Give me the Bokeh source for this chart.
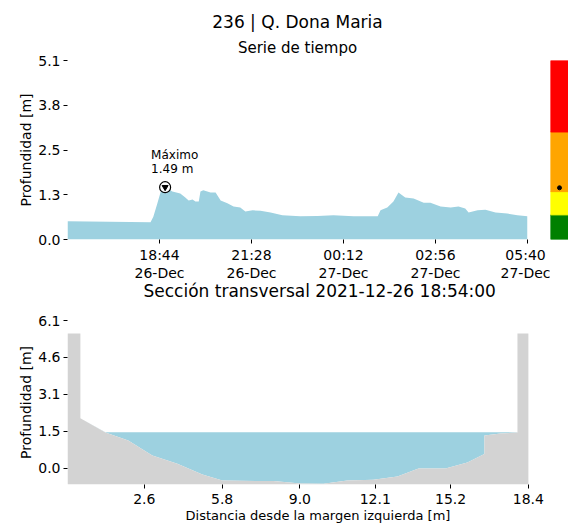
import numpy as np
import pandas as pd
from bokeh.plotting import figure
from bokeh.layouts import column, row
from bokeh.models import Range1d, FixedTicker, Title
from bokeh.core.properties import value
from bokeh.embed import file_html
from bokeh.resources import INLINE

FONT = "DejaVu Sans"

station_title = "236 | Q. Dona Maria"
series_title = "Serie de tiempo"
section_title = "Sección transversal 2021-12-26 18:54:00"
y_label = "Profundidad [m]"
x_label_section = "Distancia desde la margen izquierda [m]"

# ---- time series (depth, m) ----
times = [
    "2021-12-26 16:00", "2021-12-26 18:28", "2021-12-26 18:33", "2021-12-26 18:40",
    "2021-12-26 18:46", "2021-12-26 18:54", "2021-12-26 19:07", "2021-12-26 19:21",
    "2021-12-26 19:30", "2021-12-26 19:36", "2021-12-26 19:43", "2021-12-26 19:48",
    "2021-12-26 19:54", "2021-12-26 19:57", "2021-12-26 20:02", "2021-12-26 20:15",
    "2021-12-26 20:24", "2021-12-26 20:33", "2021-12-26 20:45", "2021-12-26 20:56",
    "2021-12-26 21:08", "2021-12-26 21:17", "2021-12-26 21:30", "2021-12-26 21:44",
    "2021-12-26 22:02", "2021-12-26 22:23", "2021-12-26 22:55", "2021-12-26 23:26",
    "2021-12-26 23:54", "2021-12-27 00:30", "2021-12-27 01:13", "2021-12-27 01:18",
    "2021-12-27 01:30", "2021-12-27 01:41", "2021-12-27 01:50", "2021-12-27 02:02",
    "2021-12-27 02:17", "2021-12-27 02:35", "2021-12-27 02:47", "2021-12-27 03:05",
    "2021-12-27 03:23", "2021-12-27 03:37", "2021-12-27 03:49", "2021-12-27 03:55",
    "2021-12-27 04:11", "2021-12-27 04:25", "2021-12-27 04:43", "2021-12-27 05:04",
    "2021-12-27 05:22", "2021-12-27 05:40",
]
depth = [
    0.52, 0.49, 0.65, 1.02,
    1.35, 1.49, 1.37, 1.31,
    1.20, 1.11, 1.14, 1.08,
    1.08, 1.37, 1.40, 1.34,
    1.34, 1.11, 1.03, 0.94,
    0.91, 0.80, 0.83, 0.82,
    0.77, 0.69, 0.66, 0.67,
    0.69, 0.66, 0.66, 0.83,
    0.91, 1.08, 1.34, 1.20,
    1.17, 1.05, 1.05, 0.94,
    0.91, 0.94, 0.88, 0.77,
    0.83, 0.85, 0.77, 0.74,
    0.69, 0.66,
]
max_time = "2021-12-26 18:54"
max_depth = 1.49
max_text = "Máximo\n1.49 m"

x_tick_times = ["2021-12-26 18:44", "2021-12-26 21:28", "2021-12-27 00:12",
                "2021-12-27 02:56", "2021-12-27 05:40"]
x_tick_labels = ["18:44\n26-Dec", "21:28\n26-Dec", "00:12\n27-Dec",
                 "02:56\n27-Dec", "05:40\n27-Dec"]
y_ticks_top = [0.0, 1.275, 2.55, 3.825, 5.1]
y_tick_labels_top = ["0.0", "1.3", "2.5", "3.8", "5.1"]

# ---- alert levels bar ----
alert_bottoms = [0.0, 0.71, 1.38, 3.1]
alert_tops = [0.71, 1.38, 3.1, 5.16]
alert_colors = ["#008000", "#FFFF00", "#FFA500", "#FF0000"]

# ---- cross section ----
section_dist = [-0.56, -0.03, -0.03, 1.0, 1.94, 2.93, 3.96, 4.99, 5.81, 7.91,
                9.02, 9.97, 10.95, 12.02, 13.01, 13.88, 14.99, 15.89, 16.59, 16.59,
                17.25, 17.95, 17.95, 18.4]
section_elev = [5.56, 5.56, 2.07, 1.48, 1.15, 0.54, 0.2, -0.25, -0.5, -0.52,
                -0.62, -0.63, -0.5, -0.46, -0.33, 0.0, 0.0, 0.25, 0.6, 1.36,
                1.44, 1.48, 5.56, 5.56]
water_level = 1.49
x_ticks_sec = [2.6, 5.8, 9.0, 12.1, 15.2, 18.4]
x_tick_labels_sec = ["2.6", "5.8", "9.0", "12.1", "15.2", "18.4"]
y_ticks_sec = [0.0, 1.525, 3.05, 4.575, 6.1]
y_tick_labels_sec = ["0.0", "1.5", "3.1", "4.6", "6.1"]

WATER = "#9DD1E0"
GROUND = "#D3D3D3"


def style_axes(p):
    for ax in p.axis:
        ax.axis_line_color = None
        ax.major_tick_out = 4
        ax.major_tick_in = 0
        ax.minor_tick_line_color = None
        ax.major_label_text_font = FONT
        ax.major_label_text_font_size = "14px"
        ax.major_label_text_color = "black"
        ax.major_label_standoff = 3
        ax.axis_label_text_font = FONT
        ax.axis_label_text_font_style = "normal"
        ax.axis_label_text_color = "black"
    p.grid.visible = False
    p.outline_line_color = None
    p.background_fill_color = "white"
    p.border_fill_color = "white"


# ================= top: time series =================
t = pd.to_datetime(times)
t_ms = (t.astype("int64") // 10**6).tolist()
tick_ms = (pd.to_datetime(x_tick_times).astype("int64") // 10**6).tolist()

TOP_H = 310
top = figure(width=550, height=TOP_H, x_axis_type="datetime",
             x_range=Range1d(t_ms[0], t_ms[-1]), y_range=Range1d(0, y_ticks_top[-1]),
             output_backend="svg", toolbar_location=None,
             min_border_left=67, min_border_right=23, min_border_top=60,
             min_border_bottom=TOP_H - 239)
top.varea(x=t_ms, y1=0, y2=depth, color=WATER)
mt = int(pd.Timestamp(max_time).value // 10**6)
top.scatter(x=[mt], y=[max_depth], marker="circle", size=11,
            fill_color="white", line_color="black", line_width=1.2)
top.scatter(x=[mt], y=[max_depth], marker="inverted_triangle", size=6,
            fill_color="black", line_color="black")
top.text(x=[mt], y=[max_depth], text=[max_text], x_offset=-14, y_offset=-11,
         text_align="left", text_baseline="bottom", text_font=value(FONT),
         text_font_size="12px", text_line_height=1.05, text_color="black")

top.xaxis.ticker = FixedTicker(ticks=tick_ms)
top.xaxis.major_label_overrides = {int(k): v for k, v in zip(tick_ms, x_tick_labels)}
top.yaxis.ticker = FixedTicker(ticks=y_ticks_top)
top.yaxis.major_label_overrides = {float(k): v for k, v in zip(y_ticks_top, y_tick_labels_top)}
top.yaxis.axis_label = y_label
top.yaxis.axis_label_text_font_size = "14px"
top.yaxis.axis_label_standoff = 1
style_axes(top)
top.xaxis.major_label_text_line_height = 1.15

top.title.text = station_title
top.title.align = "center"
top.title.text_font = FONT
top.title.text_font_size = "17px"
top.title.text_font_style = "normal"
top.title.text_color = "black"
top.title.standoff = 4
top.add_layout(Title(text=series_title, align="center", text_font=FONT,
                     text_font_size="15px", text_font_style="normal",
                     text_color="black", standoff=7),
               "above")
# title of the cross-section panel, placed under the time-series axis
top.add_layout(Title(text=section_title, align="left", offset=76, text_font=FONT,
                     text_font_size="17px", text_font_style="normal",
                     text_color="black", standoff=-6, vertical_align="top"),
               "below")

# ================= alert bar =================
bar = figure(width=18, height=TOP_H, x_range=Range1d(0, 1),
             y_range=Range1d(0, alert_tops[-1]),
             output_backend="svg", toolbar_location=None,
             x_axis_location=None, y_axis_location=None,
             min_border_left=0, min_border_right=0, min_border_top=58,
             min_border_bottom=TOP_H - 239)
bar.quad(left=0, right=1, bottom=alert_bottoms, top=alert_tops, color=alert_colors)
bar.scatter(x=[0.5], y=[max_depth], size=4, color="black")
bar.grid.visible = False
bar.outline_line_color = None

# ================= bottom: cross section =================
elev = np.array(section_elev)
y0 = -0.66
sec = figure(width=568, height=527 - TOP_H,
             x_range=Range1d(section_dist[0], 20.05), y_range=Range1d(y0, y_ticks_sec[-1]),
             output_backend="svg", toolbar_location=None,
             min_border_left=67, min_border_right=0, min_border_top=320 - TOP_H,
             min_border_bottom=43)
sec.varea(x=section_dist, y1=elev, y2=np.maximum(elev, water_level), color=WATER)
sec.varea(x=section_dist, y1=y0, y2=elev, color=GROUND)
sec.xaxis.ticker = FixedTicker(ticks=x_ticks_sec)
sec.xaxis.major_label_overrides = {float(k): v for k, v in zip(x_ticks_sec, x_tick_labels_sec)}
sec.yaxis.ticker = FixedTicker(ticks=y_ticks_sec)
sec.yaxis.major_label_overrides = {float(k): v for k, v in zip(y_ticks_sec, y_tick_labels_sec)}
sec.yaxis.axis_label = y_label
sec.yaxis.axis_label_text_font_size = "14px"
sec.yaxis.axis_label_standoff = 1
sec.xaxis.axis_label = x_label_section
sec.xaxis.axis_label_text_font_size = "13px"
sec.xaxis.axis_label_standoff = 1
style_axes(sec)
sec.xaxis.major_label_standoff = 5

layout = column(row(top, bar, spacing=0), sec, spacing=0)
open("out.html", "w").write(file_html(layout, INLINE))
